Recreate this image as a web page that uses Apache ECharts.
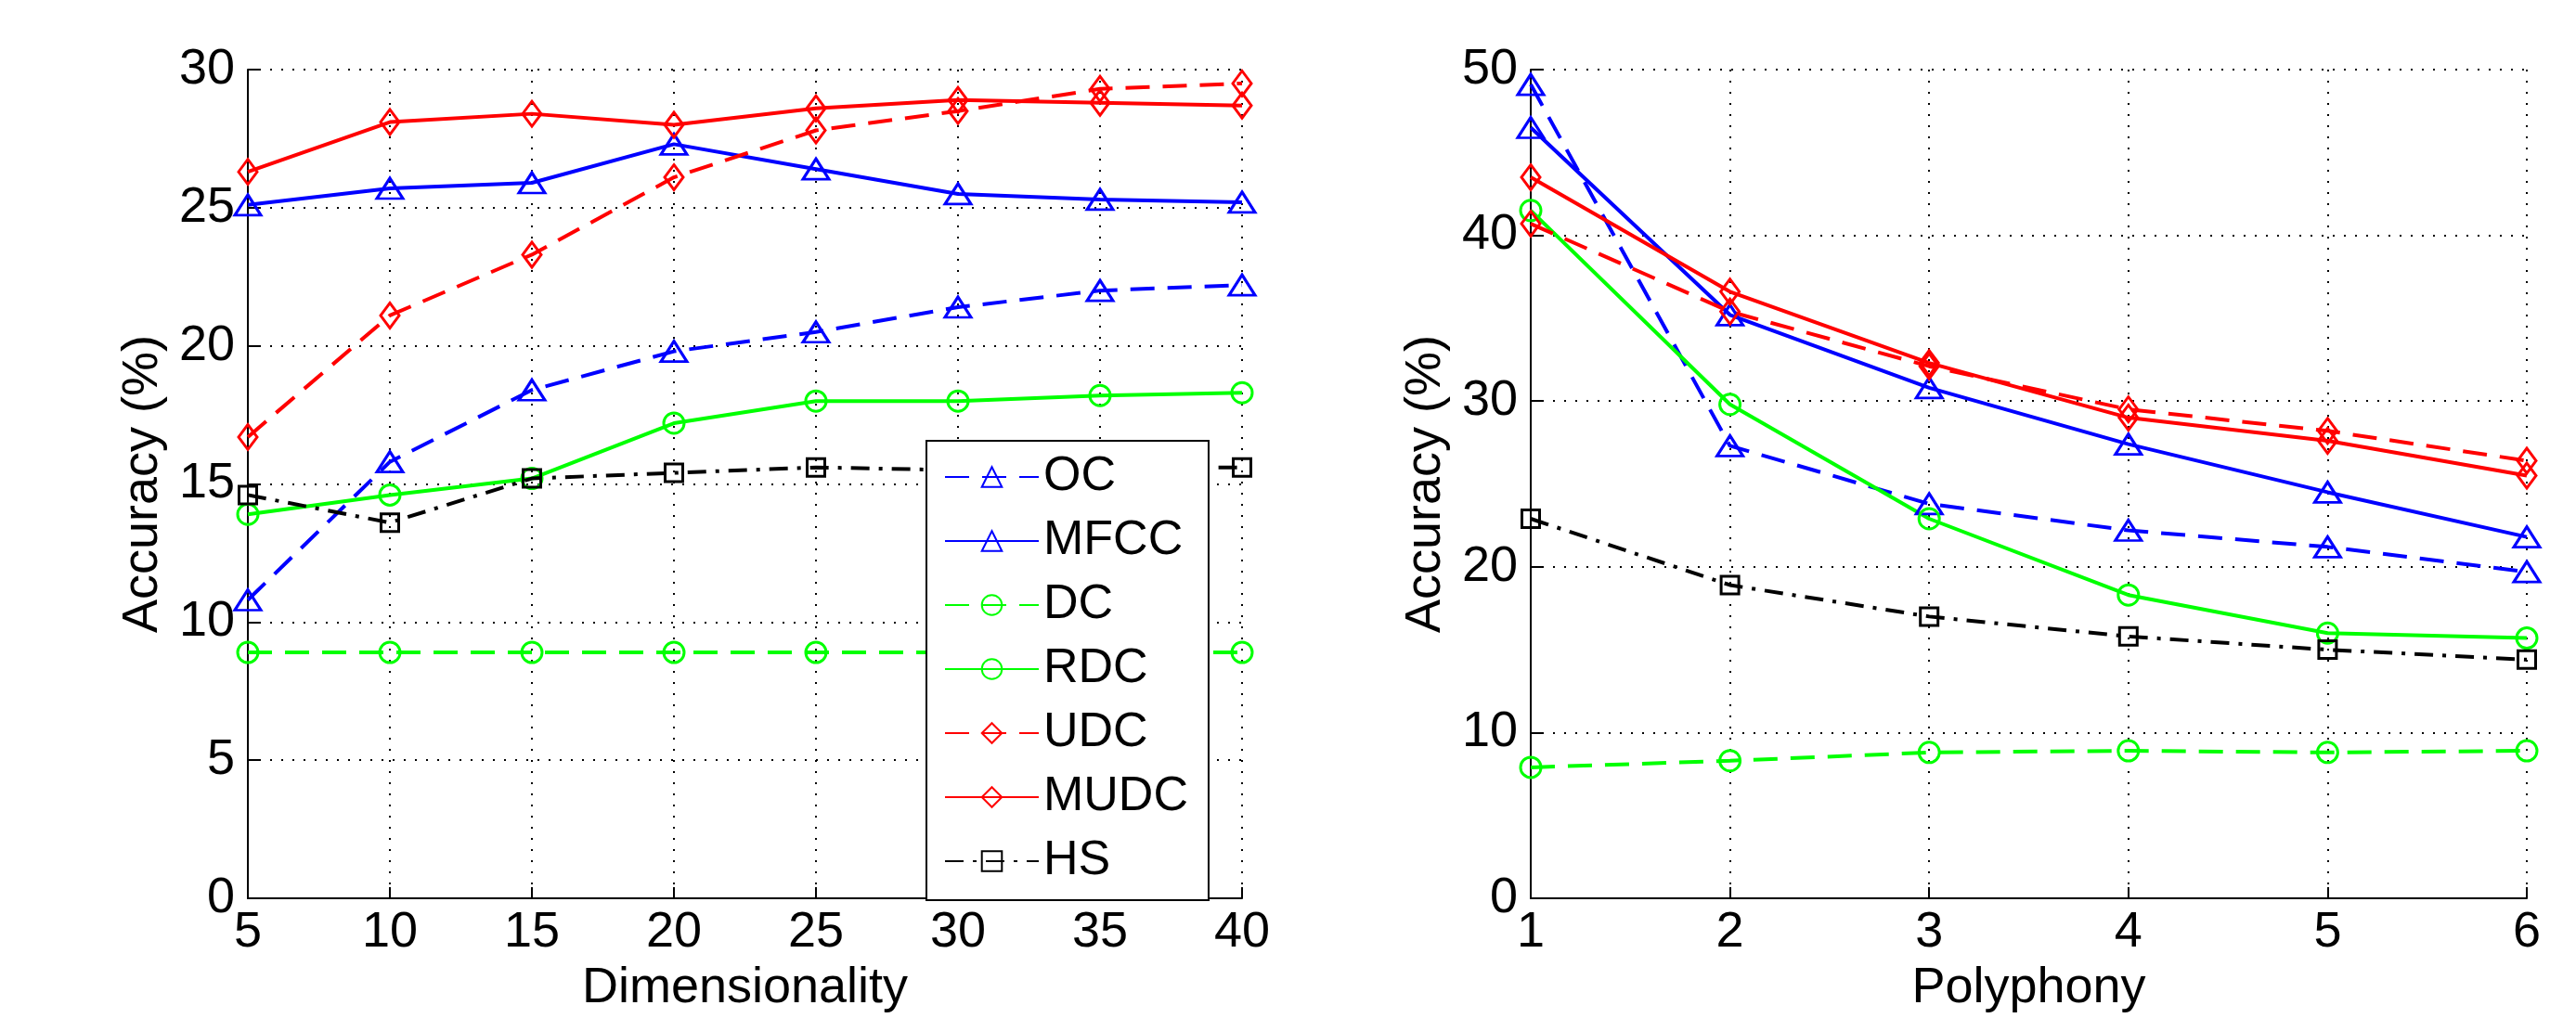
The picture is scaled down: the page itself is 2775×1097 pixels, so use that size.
<!DOCTYPE html>
<html>
<head>
<meta charset="utf-8">
<script src="https://cdn.jsdelivr.net/npm/echarts@6/dist/echarts.min.js"></script>
<style>
html,body{margin:0;padding:0;background:#fff;}
#chart{width:2775px;height:1097px;}
</style>
</head>
<body>
<div id="chart"></div>
<script>
// ---- data ----
const dimensionality = [5, 10, 15, 20, 25, 30, 35, 40];
const dimOC   = [10.8, 15.8, 18.4, 19.8, 20.5, 21.4, 22.0, 22.2];
const dimMFCC = [25.1, 25.7, 25.9, 27.3, 26.4, 25.5, 25.3, 25.2];
const dimDC   = [8.9, 8.9, 8.9, 8.9, 8.9, 8.9, 8.9, 8.9];
const dimRDC  = [13.9, 14.6, 15.2, 17.2, 18.0, 18.0, 18.2, 18.3];
const dimUDC  = [16.7, 21.1, 23.3, 26.1, 27.8, 28.5, 29.3, 29.5];
const dimMUDC = [26.3, 28.1, 28.4, 28.0, 28.6, 28.9, 28.8, 28.7];
const dimHS   = [14.6, 13.6, 15.2, 15.4, 15.6, 15.5, 15.6, 15.6];

const polyphony = [1, 2, 3, 4, 5, 6];
const polyOC   = [49.1, 27.3, 23.8, 22.2, 21.2, 19.7];
const polyMFCC = [46.5, 35.2, 30.8, 27.4, 24.5, 21.8];
const polyDC   = [7.9, 8.3, 8.8, 8.9, 8.8, 8.9];
const polyRDC  = [41.5, 29.8, 22.9, 18.3, 16.0, 15.7];
const polyUDC  = [40.7, 35.4, 32.1, 29.5, 28.2, 26.4];
const polyMUDC = [43.5, 36.6, 32.3, 29.0, 27.6, 25.5];
const polyHS   = [22.9, 18.9, 17.0, 15.8, 15.0, 14.4];

const seriesNames = ['OC', 'MFCC', 'DC', 'RDC', 'UDC', 'MUDC', 'HS'];

// ---- styles ----
const FONT = 'Liberation Sans, Arial, sans-serif';
const DASH = [26, 14];
const DASHDOT = [20, 10, 4, 10];
const styleMap = {
  OC:   {color: '#0000ff', type: DASH,    symbol: 'triangle', size: [28, 22]},
  MFCC: {color: '#0000ff', type: 'solid', symbol: 'triangle', size: [28, 22]},
  DC:   {color: '#00ff00', type: DASH,    symbol: 'circle',   size: 22},
  RDC:  {color: '#00ff00', type: 'solid', symbol: 'circle',   size: 22},
  UDC:  {color: '#ff0000', type: DASH,    symbol: 'diamond',  size: [20, 27]},
  MUDC: {color: '#ff0000', type: 'solid', symbol: 'diamond',  size: [20, 27]},
  HS:   {color: '#000000', type: DASHDOT, symbol: 'rect',     size: 19}
};

function pairs(xs, ys) { return xs.map((x, i) => [x, ys[i]]); }

function makeSeries(name, xs, ys, idx) {
  const s = styleMap[name];
  return {
    name: name,
    type: 'line',
    xAxisIndex: idx,
    yAxisIndex: idx,
    data: pairs(xs, ys),
    symbol: s.symbol,
    symbolSize: s.size,
    showAllSymbol: true,
    animation: false,
    lineStyle: {color: s.color, width: 4, type: s.type},
    itemStyle: {color: 'rgba(0,0,0,0)', borderColor: s.color, borderWidth: 3},
    emphasis: {disabled: true}
  };
}

const leftData = {OC: dimOC, MFCC: dimMFCC, DC: dimDC, RDC: dimRDC, UDC: dimUDC, MUDC: dimMUDC, HS: dimHS};
const rightData = {OC: polyOC, MFCC: polyMFCC, DC: polyDC, RDC: polyRDC, UDC: polyUDC, MUDC: polyMUDC, HS: polyHS};

const series = [];
seriesNames.forEach(n => series.push(makeSeries(n, dimensionality, leftData[n], 0)));
seriesNames.forEach(n => series.push(makeSeries(n, polyphony, rightData[n], 1)));

function xAxisCfg(idx, min, max, interval, name) {
  return {
    type: 'value', gridIndex: idx, min: min, max: max, interval: interval,
    name: name, nameLocation: 'middle', nameGap: 70,
    nameTextStyle: {fontFamily: FONT, fontSize: 54, color: '#000'},
    axisLine: {show: true, onZero: false, lineStyle: {color: '#000', width: 2}},
    axisTick: {show: true, inside: true, length: 12, lineStyle: {color: '#000', width: 2}},
    axisLabel: {fontFamily: FONT, fontSize: 54, color: '#000', margin: 10},
    splitLine: {show: true, lineStyle: {color: '#000', width: 2, type: [2, 10]}}
  };
}
function yAxisCfg(idx, min, max, interval) {
  return {
    type: 'value', gridIndex: idx, min: min, max: max, interval: interval,
    name: 'Accuracy (%)', nameLocation: 'middle', nameGap: 86,
    nameTextStyle: {fontFamily: FONT, fontSize: 54, color: '#000'},
    axisLine: {show: true, lineStyle: {color: '#000', width: 2}},
    axisTick: {show: true, inside: true, length: 12, lineStyle: {color: '#000', width: 2}},
    axisLabel: {fontFamily: FONT, fontSize: 54, color: '#000', margin: 14},
    splitLine: {show: true, lineStyle: {color: '#000', width: 2, type: [2, 10]}}
  };
}

const chart = echarts.init(document.getElementById('chart'), null, {renderer: 'canvas'});
chart.setOption({
  backgroundColor: '#fff',
  animation: false,
  grid: [
    {left: 267, top: 75, width: 1071, height: 905},
    {left: 1649, top: 75, width: 1073, height: 905}
  ],
  xAxis: [
    xAxisCfg(0, 5, 40, 5, 'Dimensionality'),
    xAxisCfg(1, 1, 6, 1, 'Polyphony')
  ],
  yAxis: [
    yAxisCfg(0, 0, 30, 5),
    yAxisCfg(1, 0, 50, 10)
  ],
  legend: {
    data: seriesNames,
    orient: 'vertical',
    left: 998,
    top: 475,
    itemWidth: 101,
    itemHeight: 27,
    itemGap: 17,
    padding: [13, 22, 16, 19],
    backgroundColor: '#fff',
    borderColor: '#000',
    borderWidth: 2,
    borderRadius: 0,
    selectedMode: false,
    textStyle: {fontFamily: FONT, fontSize: 52, color: '#000', lineHeight: 51}
  },
  series: series
});
</script>
</body>
</html>
